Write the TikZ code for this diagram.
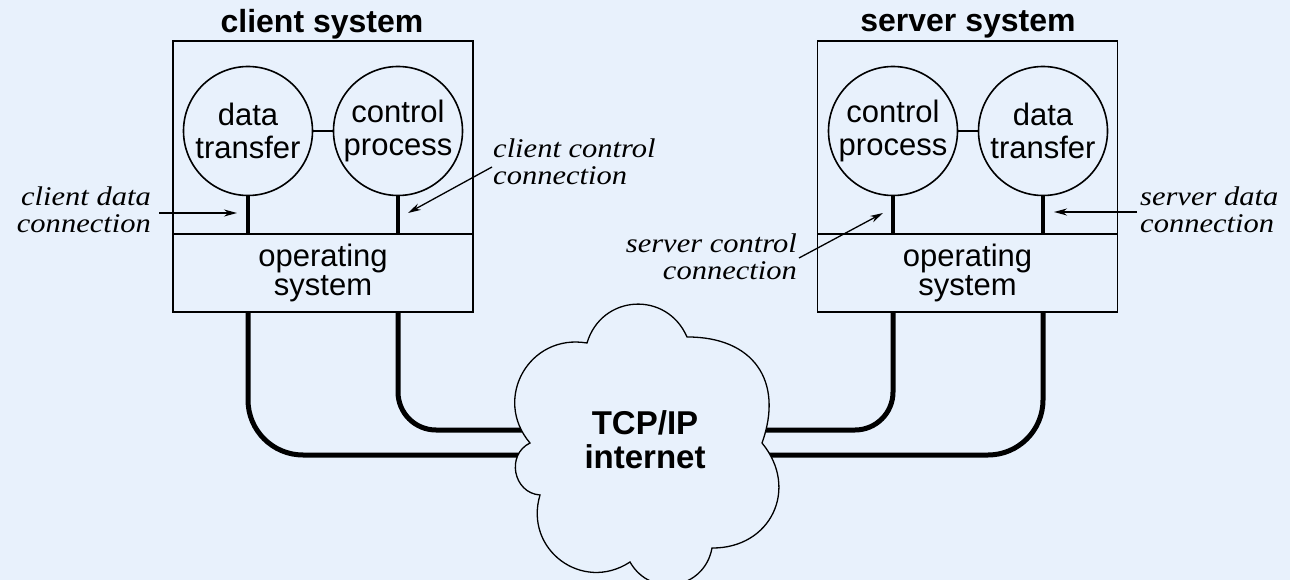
\documentclass[tikz,border=0pt]{standalone}
\usepackage{fontspec}
\setmainfont{Liberation Sans}
\newfontfamily\labfont{Liberation Serif}[FakeStretch=1.13]
\usetikzlibrary{arrows.meta}
\definecolor{bgc}{RGB}{232,241,252}
\begin{document}
\begin{tikzpicture}[x=1pt,y=-1pt,
  sysbox/.style={draw=black, line width=1.6pt, minimum width=300pt, inner sep=0pt},
  osbox/.style={sysbox, minimum height=78pt, align=center, font=\fontsize{31}{29}\selectfont},
  proc/.style={circle, draw=black, line width=1.6pt, minimum size=129pt, inner sep=0pt, align=center, font=\fontsize{31}{33}\selectfont},
  title/.style={font=\bfseries\fontsize{32}{36}\selectfont},
  lab/.style={font=\labfont\itshape\fontsize{27}{27}\selectfont, inner sep=0pt},
  stem/.style={line width=4pt},
  pipe/.style={line width=5pt},
  link/.style={line width=1.6pt},
  arr/.style={line width=1.3pt, -{Stealth[length=13pt,width=7pt]}},
  cloudline/.style={draw=black, fill=bgc, line width=1.3pt}]
\fill[bgc] (0,0) rectangle (1290,580);
\useasboundingbox (0,0) rectangle (1290,580);
% client system
\node[title] (clt) at (322,24) {client system};
\node[sysbox, minimum height=271pt] (cl) at (323,176.5) {};
\node[osbox] (clos) at (323,273) {operating\\system};
\node[proc] (cdt) at (248,131) {data\\transfer};
\node[proc] (ccp) at (398,131) {control\\process};
\draw[link] (cdt) -- (ccp);
\draw[stem] (cdt.south) -- (cdt.south |- clos.north);
\draw[stem] (ccp.south) -- (ccp.south |- clos.north);
% server system
\node[title] (svt) at (968,24) {server system};
\node[sysbox, minimum height=271pt] (sv) at (967.5,176.5) {};
\node[osbox] (svos) at (967.5,273) {operating\\system};
\node[proc] (scp) at (893,131) {control\\process};
\node[proc] (sdt) at (1043,131) {data\\transfer};
\draw[link] (scp) -- (sdt);
\draw[stem] (scp.south) -- (scp.south |- svos.north);
\draw[stem] (sdt.south) -- (sdt.south |- svos.north);
% labels and arrows
\node[lab, align=right, anchor=east] (cdl) at (151,210) {client data\\connection};
\coordinate (cda) at (159,213);
\draw[arr, shorten >=11pt] (cda) -- (cdt.south |- cda);
\node[lab, align=left, anchor=west] (ccl) at (493,162) {client control\\connection};
\coordinate (cca) at (492,167);
\coordinate (cct) at (408,213);
\draw[arr] (cca) -- (cct);
\node[lab, align=right, anchor=east] (scl) at (797,257) {server control\\connection};
\coordinate (sca) at (799,258);
\coordinate (sct) at (883,213);
\draw[arr] (sca) -- (sct);
\node[lab, align=left, anchor=west] (sdl) at (1140,210) {server data\\connection};
\coordinate (sda) at (1137,212);
\draw[arr, shorten >=11pt] (sda) -- (sdt.south |- sda);
% pipes
\coordinate (pL1) at (600,455);
\coordinate (pL2) at (600,430);
\coordinate (pR2) at (690,430);
\coordinate (pR1) at (690,455);
\draw[pipe, rounded corners=55pt] (cl.south -| cdt) |- (pL1);
\draw[pipe, rounded corners=38pt] (cl.south -| ccp) |- (pL2);
\draw[pipe, rounded corners=38pt] (sv.south -| scp) |- (pR2);
\draw[pipe, rounded corners=55pt] (sv.south -| sdt) |- (pR1);
% cloud
\draw[cloudline, looseness=1.3] (587,343) to[bend left=70] (687,337)
  to[bend left=55] (762,443) to[bend left=65] (712,548)
  to[bend left=70] (630,562) to[bend left=70] (540,495)
  to[bend left=75] (530,443) to[bend left=70] (587,343) -- cycle;
\node[font=\bfseries\fontsize{33}{34}\selectfont, align=center] (net) at (645,440) {TCP/IP\\internet};
\end{tikzpicture}
\end{document}
